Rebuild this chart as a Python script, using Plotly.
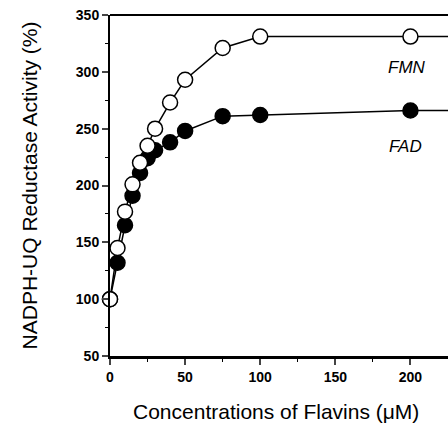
import plotly.graph_objects as go

# Data
conc_fmn = [0, 5, 10, 15, 20, 25, 30, 40, 50, 75, 100, 200, 250]
fmn = [100, 145, 177, 201, 220, 235, 250, 273, 293, 321, 331, 331, 331]
conc_fad = [0, 5, 10, 15, 20, 25, 30, 40, 50, 75, 100, 200, 250]
fad = [100, 132, 165, 191, 211, 224, 231, 238, 248, 261, 262, 266, 266]

x_ticks = [0, 50, 100, 150, 200]
y_ticks = [50, 100, 150, 200, 250, 300, 350]

FONT = "Liberation Sans, Arial, Helvetica, sans-serif"

fig = go.Figure()
fig.add_trace(go.Scatter(
    x=conc_fad, y=fad, mode="lines+markers", name="FAD",
    line=dict(color="black", width=1.5),
    marker=dict(symbol="circle", size=15, color="black", line=dict(color="black", width=1.5)),
    cliponaxis=False,
))
fig.add_trace(go.Scatter(
    x=conc_fmn, y=fmn, mode="lines+markers", name="FMN",
    line=dict(color="black", width=1.5),
    marker=dict(symbol="circle", size=15, color="white", line=dict(color="black", width=1.5)),
    cliponaxis=False,
))

fig.update_layout(
    width=448, height=431,
    margin=dict(l=110, r=0, t=15, b=75),
    paper_bgcolor="white", plot_bgcolor="white",
    showlegend=False,
    font=dict(family=FONT, color="black"),
    xaxis=dict(
        range=[0, 225], tickvals=x_ticks, ticks="outside", ticklen=6, tickwidth=1.5,
        showline=True, linecolor="black", linewidth=2.5,
        showgrid=False, zeroline=False,
        tickfont=dict(size=14, family=FONT, weight="bold"),
        minor=dict(dtick=25, ticks="outside", ticklen=3, tickwidth=1, tickcolor="black"),
    ),
    yaxis=dict(
        range=[50, 350], tickvals=y_ticks, ticks="outside", ticklen=6, tickwidth=1.5,
        showline=True, linecolor="black", linewidth=2,
        showgrid=False, zeroline=False,
        tickfont=dict(size=14, family=FONT, weight="bold"),
        minor=dict(dtick=25, ticks="outside", ticklen=3, tickwidth=1, tickcolor="black"),
    ),
    shapes=[
        dict(type="line", xref="paper", yref="paper", x0=0, x1=1, y0=1, y1=1,
             line=dict(color="black", width=2), layer="above"),
    ],
    annotations=[
        dict(text="FMN", x=198, y=304, xref="x", yref="y", showarrow=False,
             font=dict(size=17, family=FONT, style="italic"), xanchor="center", yanchor="middle"),
        dict(text="FAD", x=197, y=234, xref="x", yref="y", showarrow=False,
             font=dict(size=17, family=FONT, style="italic"), xanchor="center", yanchor="middle"),
        dict(text="NADPH-UQ Reductase Activity (%)", x=-0.237, y=0.5, xref="paper", yref="paper",
             showarrow=False, textangle=-90, font=dict(size=21, family=FONT),
             xanchor="center", yanchor="middle"),
        dict(text="Concentrations of Flavins (μM)", x=0.49, y=-0.163, xref="paper", yref="paper",
             showarrow=False, font=dict(size=21, family=FONT),
             xanchor="center", yanchor="middle"),
    ],
)

fig.write_html("out.html", config={"displayModeBar": False},
               post_script="document.body.style.margin='0';document.body.style.overflow='hidden';")
